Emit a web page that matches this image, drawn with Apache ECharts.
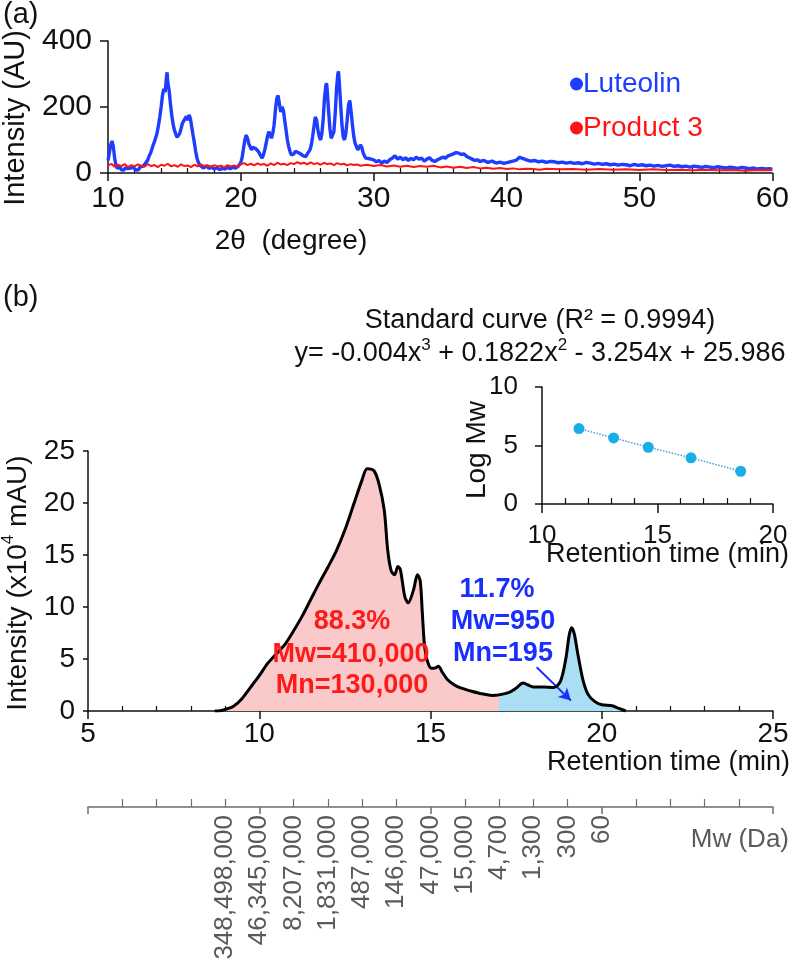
<!DOCTYPE html>
<html><head><meta charset="utf-8">
<script src="https://cdn.jsdelivr.net/npm/echarts@6/dist/echarts.min.js"></script>
<style>html,body{margin:0;padding:0;background:#fff}#c{width:792px;height:966px}</style>
</head><body><div id="c"></div>
<script>
const FONT = '"Liberation Sans", Arial, sans-serif';

// ---- Panel (a): XRD ----
const luteolin = [[10.0,38],[10.1,60],[10.2,85],[10.3,97],[10.4,80],[10.5,45],[10.6,22],[10.7,15],[10.8,12],[10.9,18],[11.0,10],[11.1,14],[11.2,9],[11.3,16],[11.4,11],[11.5,13],[11.6,8],[11.7,15],[11.8,10],[11.9,17],[12.0,12],[12.1,9],[12.2,14],[12.3,10],[12.4,18],[12.5,15],[12.6,20],[12.7,24],[12.8,28],[12.9,34],[13.0,40],[13.1,52],[13.2,60],[13.3,72],[13.4,85],[13.5,95],[13.6,108],[13.7,122],[13.8,145],[13.9,170],[14.0,200],[14.1,235],[14.2,255],[14.3,245],[14.4,290],[14.45,305],[14.5,275],[14.6,250],[14.7,210],[14.8,175],[14.9,148],[15.0,130],[15.1,118],[15.2,108],[15.3,112],[15.4,120],[15.5,135],[15.6,150],[15.7,158],[15.8,165],[15.9,172],[16.0,160],[16.1,176],[16.2,165],[16.3,140],[16.4,115],[16.5,92],[16.6,65],[16.7,45],[16.8,32],[16.9,24],[17.0,20],[17.2,15],[17.4,22],[17.6,14],[17.8,18],[18.0,12],[18.2,16],[18.4,10],[18.6,14],[18.8,12],[19.0,17],[19.2,13],[19.4,18],[19.6,15],[19.8,20],[19.9,24],[20.0,32],[20.1,48],[20.2,75],[20.3,100],[20.4,115],[20.5,105],[20.6,88],[20.7,80],[20.8,70],[20.9,78],[21.0,82],[21.1,74],[21.2,80],[21.3,66],[21.4,60],[21.5,52],[21.6,45],[21.7,55],[21.8,70],[21.9,90],[22.0,110],[22.1,125],[22.2,118],[22.3,105],[22.4,120],[22.5,145],[22.6,190],[22.7,225],[22.8,235],[22.9,210],[23.0,185],[23.1,200],[23.2,190],[23.3,160],[23.4,130],[23.5,100],[23.6,80],[23.7,65],[23.8,55],[23.9,50],[24.0,58],[24.1,66],[24.2,70],[24.3,62],[24.4,65],[24.5,58],[24.6,55],[24.7,52],[24.8,56],[24.9,50],[25.0,58],[25.1,62],[25.2,70],[25.3,85],[25.4,110],[25.5,140],[25.6,170],[25.65,175],[25.7,160],[25.8,130],[25.9,110],[26.0,100],[26.1,120],[26.2,165],[26.3,230],[26.4,265],[26.45,272],[26.5,250],[26.6,190],[26.7,135],[26.8,105],[26.9,100],[27.0,125],[27.1,180],[27.2,255],[27.3,300],[27.35,308],[27.4,280],[27.5,215],[27.6,150],[27.7,110],[27.8,100],[27.9,120],[28.0,160],[28.1,205],[28.2,220],[28.3,185],[28.4,145],[28.5,110],[28.6,90],[28.7,80],[28.8,70],[28.9,72],[29.0,85],[29.1,78],[29.2,62],[29.3,52],[29.4,45],[29.5,40],[29.6,44],[29.7,38],[29.8,42],[29.9,36],[30.0,40],[30.2,34],[30.4,38],[30.6,30],[30.8,36],[31.0,32],[31.2,40],[31.4,45],[31.6,52],[31.8,42],[32.0,48],[32.2,40],[32.4,46],[32.6,38],[32.8,44],[33.0,40],[33.2,48],[33.4,42],[33.6,45],[33.8,36],[34.0,42],[34.2,46],[34.4,38],[34.6,35],[34.8,40],[35.0,44],[35.2,48],[35.4,45],[35.6,52],[35.8,55],[36.0,58],[36.2,62],[36.4,60],[36.6,56],[36.8,58],[37.0,50],[37.2,46],[37.4,42],[37.6,38],[37.8,40],[38.0,35],[38.3,38],[38.6,32],[38.9,36],[39.2,30],[39.5,33],[39.8,29],[40.1,32],[40.4,35],[40.7,38],[41.0,48],[41.2,44],[41.5,40],[41.8,36],[42.1,38],[42.4,34],[42.7,36],[43.0,32],[43.3,35],[43.6,34],[43.9,31],[44.2,33],[44.5,30],[44.8,32],[45.1,29],[45.4,31],[45.7,28],[46.0,32],[46.3,30],[46.6,27],[46.9,29],[47.2,26],[47.5,28],[47.8,25],[48.1,27],[48.4,24],[48.7,26],[49.0,25],[49.3,22],[49.6,26],[49.9,23],[50.2,25],[50.5,22],[50.8,24],[51.1,21],[51.4,23],[51.7,20],[52.0,22],[52.3,24],[52.6,20],[52.9,22],[53.2,19],[53.5,21],[53.8,18],[54.1,21],[54.4,19],[54.7,17],[55.0,20],[55.3,18],[55.6,16],[55.9,19],[56.2,17],[56.5,15],[56.8,18],[57.1,16],[57.4,14],[57.7,17],[58.0,15],[58.3,13],[58.6,15],[58.9,12],[59.2,14],[59.5,12],[59.8,13],[60.0,11]];
const product3 = [[10.0,22],[10.25,28],[10.5,19],[10.75,25],[11.0,21],[11.25,27],[11.5,18],[11.75,24],[12.0,20],[12.25,26],[12.5,22],[12.75,19],[13.0,27],[13.25,21],[13.5,24],[13.75,18],[14.0,25],[14.25,22],[14.5,28],[14.75,20],[15.0,24],[15.25,19],[15.5,26],[15.75,21],[16.0,23],[16.25,18],[16.5,25],[16.75,20],[17.0,26],[17.25,21],[17.5,23],[17.75,19],[18.0,24],[18.25,20],[18.5,22],[18.75,17],[19.0,24],[19.25,20],[19.5,23],[19.75,19],[20.0,26],[20.25,30],[20.5,24],[20.75,28],[21.0,23],[21.25,29],[21.5,25],[21.75,27],[22.0,22],[22.25,29],[22.5,24],[22.75,31],[23.0,26],[23.25,28],[23.5,24],[23.75,30],[24.0,27],[24.25,33],[24.5,28],[24.75,31],[25.0,26],[25.25,32],[25.5,27],[25.75,30],[26.0,25],[26.25,31],[26.5,27],[26.75,29],[27.0,24],[27.25,30],[27.5,26],[27.75,28],[28.0,23],[28.25,27],[28.5,24],[28.75,26],[29.0,22],[29.5,25],[30.0,21],[30.5,24],[31.0,20],[31.5,23],[32.0,19],[32.5,22],[33.0,18],[33.5,21],[34.0,19],[34.5,22],[35.0,17],[35.5,20],[36.0,16],[36.5,19],[37.0,15],[37.5,18],[38.0,14],[38.5,16],[39.0,13],[39.5,15],[40.0,12],[40.5,14],[41.0,11],[41.5,13],[42.0,12],[42.5,10],[43.0,13],[44.0,11],[45.0,12],[46.0,10],[47.0,12],[48.0,10],[49.0,11],[50.0,9],[51.0,11],[52.0,9],[53.0,10],[54.0,8],[55.0,10],[56.0,8],[57.0,9],[58.0,7],[59.0,9],[60.0,8]];

// ---- Panel (b): GPC chromatogram ----
const gpcRt =        [8.7, 8.77, 9.0, 9.25, 9.5, 9.75, 10.0, 10.25, 10.5, 10.75, 11.0, 11.25, 11.5, 11.75, 12.0, 12.25, 12.5, 12.75, 13.0, 13.15, 13.35, 13.5, 13.65, 13.75, 13.85, 13.95, 14.05, 14.12, 14.25, 14.35, 14.5, 14.62, 14.7, 14.76, 14.82, 14.9, 15.03, 15.15, 15.23, 15.35, 15.5, 15.7, 15.9, 16.2, 16.5, 16.8, 17.0, 17.3, 17.5, 17.7, 17.85, 18.0, 18.3, 18.6, 18.8, 18.95, 19.05, 19.12, 19.2, 19.3, 19.45, 19.6, 19.8, 20.0, 20.3, 20.5, 20.7];
const gpcIntensity = [0,   0,    0.15, 0.45, 1.2, 2.3,  3.4,  4.6,   5.5,  6.4,   7.7,  9.1,   10.7, 12.3,  13.8, 15.4,  17.4, 19.8,  22.2, 23.3,  23.1,  21.8, 19.3,  15.5,  13.5,  13.1,  13.9,  13.6,  11.0,  10.4,  11.6, 13.1,  12.5, 9.5,   6.5,   4.9,  4.1,   4.15,  4.3,   3.7,   3.0,  2.5,  2.2,  1.9,  1.65, 1.5,  1.55, 1.8,  2.2,  2.7,  2.5,   2.3,  2.3,  2.25, 2.9,  5.0,   7.3,   8.0,   7.4,  5.5,  3.0,   1.6,  0.9,  0.6,  0.5,  0.25, 0];
const splitRt = 17.0;
const highPct = ['88.3%', 'Mw=410,000', 'Mn=130,000'];
const lowPct = ['11.7%', 'Mw=950', 'Mn=195'];
const arrowFrom = [18.1, 4.2], arrowTo = [19.1, 1.0];

// ---- Inset: standard curve ----
const calRt = [11.6, 13.1, 14.6, 16.45, 18.6];
const calLogMw = [6.45, 5.65, 4.85, 3.95, 2.8];

// ---- Mw axis ----
const mwRt = [9, 10, 11, 12, 13, 14, 15, 16, 17, 18, 19, 20];
const mwLabels = ['348,498,000','46,345,000','8,207,000','1,831,000','487,000','146,000','47,000','15,000','4,700','1,300','300','60'];

const gpc = gpcRt.map((r, i) => [r, gpcIntensity[i]]);
const gpcHigh = gpc.filter(p => p[0] <= splitRt);
const gpcLow = gpc.filter(p => p[0] >= splitRt);
const calib = calRt.map((r, i) => [r, calLogMw[i]]);

const BLK = '#111';
function axisCommon(o) {
  return Object.assign({
    type: 'value', splitLine: {show: false},
    axisLine: {show: true, onZero: false, lineStyle: {color: BLK, width: 1.5}},
    axisTick: {show: true, length: 7, lineStyle: {color: BLK, width: 1.5}},
    axisLabel: {color: BLK, fontFamily: FONT, fontSize: 27}
  }, o);
}

const chart = echarts.init(document.getElementById('c'), null, {renderer: 'canvas'});
function txt(x, y, text, size, color, opts) {
  opts = opts || {};
  return {
    type: 'text', x: x, y: y, rotation: opts.rot || 0, z: 100,
    style: Object.assign({
      text: text, fill: color || BLK,
      font: (opts.bold ? 'bold ' : '') + size + 'px ' + FONT,
      textAlign: opts.align || 'center', textVerticalAlign: 'middle'
    }, opts.style || {})
  };
}
const supRich = (size) => ({
  a: {fontSize: size, fontFamily: FONT, fill: BLK, color: BLK, lineHeight: size + 4, verticalAlign: 'bottom'},
  s: {fontSize: Math.round(size * 0.62), fontFamily: FONT, fill: BLK, color: BLK, verticalAlign: 'top', lineHeight: size + 4}
});

const option = {
  backgroundColor: '#fff',
  animation: false,
  grid: [
    {left: 108, top: 41, width: 665, height: 132},
    {left: 542, top: 387, width: 231, height: 117},
    {left: 88, top: 451, width: 685, height: 260},
    {left: 88, top: 806, width: 685, height: 1}
  ],
  xAxis: [
    axisCommon({gridIndex: 0, min: 10, max: 60, interval: 10,
      axisTick: {length: 8, lineStyle: {color: BLK, width: 1.5}},
      minorTick: {show: true, splitNumber: 5, length: -5, lineStyle: {color: BLK, width: 1.2}},
      axisLabel: {color: BLK, fontFamily: FONT, fontSize: 30, margin: 11}}),
    axisCommon({gridIndex: 1, min: 10, max: 20, interval: 5,
      axisTick: {length: 9, lineStyle: {color: BLK, width: 1.5}},
      minorTick: {show: true, splitNumber: 5, length: -6, lineStyle: {color: BLK, width: 1.2}},
      axisLabel: {color: BLK, fontFamily: FONT, fontSize: 26, margin: 19}}),
    axisCommon({gridIndex: 2, min: 5, max: 25, interval: 5,
      axisTick: {length: 8, lineStyle: {color: BLK, width: 1.5}},
      minorTick: {show: true, splitNumber: 5, length: -5, lineStyle: {color: BLK, width: 1.2}},
      axisLabel: {color: BLK, fontFamily: FONT, fontSize: 28, margin: 9}}),
    axisCommon({gridIndex: 3, min: 5, max: 25, interval: 5, position: 'bottom',
      axisLine: {show: true, onZero: false, lineStyle: {color: '#6e6e6e', width: 1.5}},
      axisTick: {length: 7, lineStyle: {color: '#6e6e6e', width: 1.5}},
      minorTick: {show: true, splitNumber: 5, length: -8, lineStyle: {color: '#6e6e6e', width: 1.2}},
      axisLabel: {color: '#5a5a5a', fontFamily: FONT, fontSize: 26, margin: 8, rotate: 90,
        customValues: mwRt,
        formatter: (v) => { const i = mwRt.findIndex(r => Math.abs(r - v) < 1e-6); return i >= 0 ? mwLabels[i] : ''; }}})
  ],
  yAxis: [
    axisCommon({gridIndex: 0, min: 0, max: 400, interval: 200,
      axisTick: {length: 8, lineStyle: {color: BLK, width: 1.5}},
      axisLabel: {color: BLK, fontFamily: FONT, fontSize: 30, margin: 16}}),
    axisCommon({gridIndex: 1, min: 0, max: 10, interval: 5,
      axisLabel: {color: BLK, fontFamily: FONT, fontSize: 26, margin: 24}}),
    axisCommon({gridIndex: 2, min: 0, max: 25, interval: 5,
      axisTick: {length: 5, lineStyle: {color: BLK, width: 1.5}},
      axisLabel: {color: BLK, fontFamily: FONT, fontSize: 28, margin: 13}}),
    {type: 'value', gridIndex: 3, min: 0, max: 1, show: false}
  ],
  legend: {
    orient: 'vertical', left: 565, top: 65, itemGap: 16, icon: 'circle',
    itemWidth: 13, itemHeight: 13, selectedMode: false,
    textStyle: {fontFamily: FONT, fontSize: 28, padding: [0, 0, 0, -5]},
    data: [
      {name: 'Luteolin', textStyle: {color: '#1e3dff'}},
      {name: 'Product 3', textStyle: {color: '#ff1414'}}
    ]
  },
  series: [
    {name: 'Luteolin', type: 'line', xAxisIndex: 0, yAxisIndex: 0, data: luteolin, showSymbol: false,
      symbol: 'circle', itemStyle: {color: '#1e3dff'}, lineStyle: {color: '#1e3dff', width: 3.4}, z: 3},
    {name: 'Product 3', type: 'line', xAxisIndex: 0, yAxisIndex: 0, data: product3, showSymbol: false,
      symbol: 'circle', itemStyle: {color: '#ff1414'}, lineStyle: {color: '#ff1414', width: 2}, z: 4},
    {name: 'high', type: 'line', xAxisIndex: 2, yAxisIndex: 2, data: gpcHigh, smooth: 0.3, showSymbol: false,
      lineStyle: {width: 0}, areaStyle: {color: '#fac9c9', opacity: 1}, z: 1},
    {name: 'low', type: 'line', xAxisIndex: 2, yAxisIndex: 2, data: gpcLow, smooth: 0.3, showSymbol: false,
      lineStyle: {width: 0}, areaStyle: {color: '#a9def3', opacity: 1}, z: 1,
      markLine: {silent: true, symbol: ['none', 'arrow'], symbolSize: [10, 12], label: {show: false},
        lineStyle: {color: '#1a2eff', width: 2, type: 'solid'},
        data: [[{coord: arrowFrom}, {coord: arrowTo}]]}},
    {name: 'gpc', type: 'line', xAxisIndex: 2, yAxisIndex: 2, data: gpc, smooth: 0.3, showSymbol: false,
      lineStyle: {color: '#000', width: 3}, z: 5},
    {name: 'calib', type: 'line', xAxisIndex: 1, yAxisIndex: 1, data: calib, symbol: 'circle', symbolSize: 11,
      itemStyle: {color: '#1aaee8'}, lineStyle: {color: '#4a9fdc', width: 1.5, type: 'dotted'}, z: 5}
  ],
  graphic: [
    txt(3, 15, '(a)', 29, BLK, {align: 'left'}),
    txt(16, 118, 'Intensity (AU)', 29, BLK, {rot: Math.PI / 2}),
    txt(291, 241, '2θ  (degree)', 28, BLK),
    txt(3, 298, '(b)', 29, BLK, {align: 'left'}),
    txt(540, 321, 'Standard curve (R² = 0.9994)', 27, BLK),
    {type: 'text', x: 540, y: 352, z: 100, style: {text: '{a|y= -0.004x}{s|3}{a| + 0.1822x}{s|2}{a| - 3.254x + 25.986}',
      rich: supRich(27), textAlign: 'center', textVerticalAlign: 'middle', font: '27px ' + FONT}},
    txt(477, 450, 'Log Mw', 28, BLK, {rot: Math.PI / 2}),
    txt(789, 555, 'Retention time (min)', 27, BLK, {align: 'right'}),
    {type: 'text', x: 16, y: 583, rotation: Math.PI / 2, z: 100, style: {text: '{a|Intensity (x10}{s|4}{a| mAU)}',
      rich: supRich(28), textAlign: 'center', textVerticalAlign: 'middle', font: '28px ' + FONT}},
    txt(790, 763, 'Retention time (min)', 27, BLK, {align: 'right'}),
    txt(789, 840, 'Mw (Da)', 26, '#5a5a5a', {align: 'right'}),
    txt(352, 622, highPct[0], 27, '#ff1a1a', {bold: true}),
    txt(351, 655, highPct[1], 27, '#ff1a1a', {bold: true}),
    txt(352, 686, highPct[2], 27, '#ff1a1a', {bold: true}),
    txt(497, 590, lowPct[0], 27, '#1a2eff', {bold: true}),
    txt(503, 622, lowPct[1], 27, '#1a2eff', {bold: true}),
    txt(503, 654, lowPct[2], 27, '#1a2eff', {bold: true})
  ]
};
chart.setOption(option);
</script></body></html>
